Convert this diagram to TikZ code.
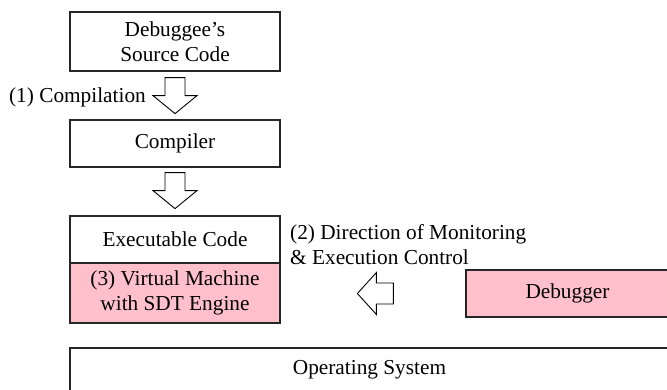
\documentclass[tikz,border=0pt]{standalone}
\usepackage{fontspec}
\setmainfont{Liberation Serif}
\usetikzlibrary{calc}
\definecolor{boxpink}{RGB}{255,192,203}
\tikzset{
  box/.style={draw=black!85, line width=1.2pt, inner sep=0pt, align=center},
  pinkbox/.style={box, fill=boxpink},
  blockarrow/.style={draw=black, line width=0.9pt, fill=white, line join=miter},
  lbl/.style={inner sep=0pt, align=left},
  downblock/.pic={\draw[blockarrow] (-10,0) -- (10,0) -- (10,18) -- (22,18)
      -- (0,36) -- (-22,18) -- (-10,18) -- cycle;},
  leftblock/.pic={\draw[blockarrow] (0,0) -- (19,-21) -- (19,-10.5) -- (36,-10.5)
      -- (36,10.5) -- (19,10.5) -- (19,21) -- cycle;}
}
\begin{document}
\begin{tikzpicture}[x=1pt,y=-1pt,font=\fontsize{21.3}{25}\selectfont]
\clip (0,0) rectangle (667,389);

% build chain
\node[box, minimum width=210pt, minimum height=59pt] (src) at (175,41.5) {Debuggee’s\\Source Code};
\node[box, minimum width=210pt, minimum height=47pt] (comp) at (175,143.5) {Compiler};
\node[box, minimum width=210pt, minimum height=47pt] (exe) at (175,239.5) {Executable Code};
\node[pinkbox, minimum width=210pt, minimum height=60pt] (vm) at (175,293) {(3) Virtual Machine\\with SDT Engine};

% debugger and OS
\node[pinkbox, minimum width=203pt, minimum height=47pt] (dbg) at (567.5,293.5) {Debugger};
\node[box, minimum width=599pt, minimum height=44pt] (os) at (369.5,370) {Operating System};

% block arrows
\pic at ($(src.south)+(0,6)$) {downblock};
\pic at ($(comp.south)+(0,5)$) {downblock};
\pic at ($(dbg.west)+(-108,0)$) {leftblock};

% labels
\node[lbl, anchor=base east] (lcomp) at (146,102) {(1) Compilation};
\node[lbl, anchor=west] (lctrl) at (290,245) {(2) Direction of Monitoring\\\& Execution Control};
\end{tikzpicture}
\end{document}
